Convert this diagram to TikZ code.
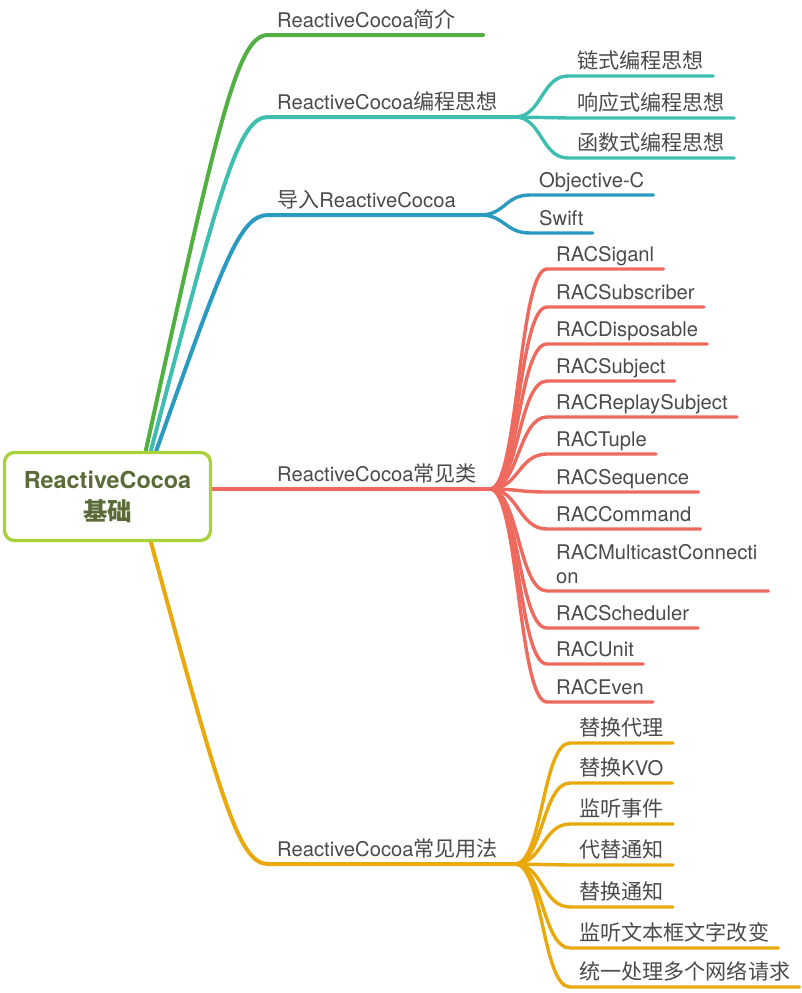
\documentclass[tikz,border=0pt]{standalone}
\usepackage{fontspec}
\setmainfont{TeX Gyre Heros}
\newfontfamily\cjk[Scale=1.045]{Noto Sans CJK SC}
\usetikzlibrary{calc, backgrounds}
\newcommand{\zh}[1]{{\cjk #1}}

\definecolor{rootline}{HTML}{A8D13A}
\definecolor{roottext}{HTML}{5B6B38}
\definecolor{labeltext}{HTML}{4A4A4A}
\definecolor{cgreen}{HTML}{52B043}
\definecolor{cteal}{HTML}{3DBEAF}
\definecolor{cblue}{HTML}{2A9AC0}
\definecolor{cred}{HTML}{EE6A5F}
\definecolor{corange}{HTML}{E9A90C}

\tikzset{topic/.style={anchor=south west, inner xsep=9pt, inner ysep=2pt, text height=15pt, text depth=5pt, font=\fontsize{20.2}{24}\selectfont, text=labeltext},
  trunk/.style={to path={let \p1=(\tikztostart), \p2=(\tikztotarget) in .. controls ({\x1+0.6*(\x2-\x1)},{\y1+0.8*(\y2-\y1)}) and ({\x1+0.75*(\x2-\x1)},\y2) .. (\tikztotarget)}},
  twig/.style={to path={let \p1=(\tikztostart), \p2=(\tikztotarget) in .. controls ({0.5*(\x1+\x2)},\y1) and ({0.5*(\x1+\x2)},\y2) .. (\tikztotarget)}},
  bough/.style={line width=4pt, line cap=round, line join=round},
  sprig/.style={line width=3.4pt, line cap=round, line join=round}}

\begin{document}
\begin{tikzpicture}[x=1pt, y=-1pt, rootbox/.style={draw=rootline, line width=3.3pt, rounded corners=10pt, fill=white, minimum width=206pt, minimum height=88pt, align=center, font=\bfseries\fontsize{23.4}{32}\selectfont, text=roottext}]
    \useasboundingbox (0,0) rectangle (801,993);

    %Root
    \node[rootbox](root) at (107.5,496.5){ReactiveCocoa\\\zh{基础}};

    %Main topics
    \node[topic](intro) at (268,35){ReactiveCocoa\zh{简介}};
    \coordinate (intro end) at (483,35);
    \node[topic](idea) at (268,117){ReactiveCocoa\zh{编程思想}};
    \coordinate (idea fork) at (515,117);
    \node[topic](setup) at (268,215){\zh{导入}ReactiveCocoa};
    \coordinate (setup fork) at (480,215);
    \node[topic](classes) at (268,489){ReactiveCocoa\zh{常见类}};
    \coordinate (classes fork) at (490,489);
    \node[topic](usage) at (268,864){ReactiveCocoa\zh{常见用法}};
    \coordinate (usage fork) at (515,864);

    %Programming ideas
    \node[topic](chain) at (568,76){\zh{链式编程思想}};
    \node[topic](reactive) at (568,118){\zh{响应式编程思想}};
    \node[topic](functional) at (568,158){\zh{函数式编程思想}};

    %Languages
    \node[topic](objc) at (530,195){Objective-C};
    \node[topic](swift) at (530,233){Swift};

    %Classes
    \node[topic](siganl) at (547,269){RACSiganl};
    \node[topic](subscriber) at (547,307){RACSubscriber};
    \node[topic](disposable) at (547,344){RACDisposable};
    \node[topic](subject) at (547,381){RACSubject};
    \node[topic](replay) at (547,417){RACReplaySubject};
    \node[topic](tuple) at (547,454){RACTuple};
    \node[topic](sequence) at (547,492){RACSequence};
    \node[topic](command) at (547,529){RACCommand};
    \node[topic, text height=39pt](multicast) at (547,591){\parbox[b]{203pt}{RACMulticastConnecti\\on}};
    \node[topic](scheduler) at (547,628){RACScheduler};
    \node[topic](unit) at (547,664){RACUnit};
    \node[topic](even) at (547,702){RACEven};

    %Usage
    \node[topic](delegate) at (570,743){\zh{替换代理}};
    \node[topic](kvo) at (570,783){\zh{替换}KVO};
    \node[topic](event) at (570,824){\zh{监听事件}};
    \node[topic](notify) at (570,865){\zh{代替通知}};
    \node[topic](renotify) at (570,907){\zh{替换通知}};
    \node[topic](textchange) at (570,948){\zh{监听文本框文字改变}};
    \node[topic](network) at (570,987){\zh{统一处理多个网络请求}};

    %Lines
    \begin{scope}[on background layer]
    \draw[bough, cgreen] ([xshift=142pt,yshift=-4pt]root.north west) to[trunk] (intro.south west) -- (intro end);
    \draw[bough, cteal] ([xshift=147pt,yshift=-4pt]root.north west) to[trunk] (idea.south west) -- (idea fork);
    \draw[bough, cblue] ([xshift=152pt,yshift=-4pt]root.north west) to[trunk] (setup.south west) -- (setup fork);
    \draw[bough, cred] (root.east |- classes fork) -- (classes.south west) -- (classes fork);
    \draw[bough, corange] ([xshift=147pt,yshift=4pt]root.south west) to[trunk] (usage.south west) -- (usage fork);

    \draw[sprig, cteal] (idea fork) to[twig] (chain.south west) -- (chain.south east);
    \draw[sprig, cteal] (idea fork) to[twig] (reactive.south west) -- (reactive.south east);
    \draw[sprig, cteal] (idea fork) to[twig] (functional.south west) -- (functional.south east);

    \draw[sprig, cblue] (setup fork) to[twig] (objc.south west) -- (objc.south east);
    \draw[sprig, cblue] (setup fork) to[twig] (swift.south west) -- (swift.south east);

    \draw[sprig, cred] (classes fork) to[twig] (siganl.south west) -- (siganl.south east);
    \draw[sprig, cred] (classes fork) to[twig] (subscriber.south west) -- (subscriber.south east);
    \draw[sprig, cred] (classes fork) to[twig] (disposable.south west) -- (disposable.south east);
    \draw[sprig, cred] (classes fork) to[twig] (subject.south west) -- (subject.south east);
    \draw[sprig, cred] (classes fork) to[twig] (replay.south west) -- (replay.south east);
    \draw[sprig, cred] (classes fork) to[twig] (tuple.south west) -- (tuple.south east);
    \draw[sprig, cred] (classes fork) to[twig] (sequence.south west) -- (sequence.south east);
    \draw[sprig, cred] (classes fork) to[twig] (command.south west) -- (command.south east);
    \draw[sprig, cred] (classes fork) to[twig] (multicast.south west) -- (multicast.south east);
    \draw[sprig, cred] (classes fork) to[twig] (scheduler.south west) -- (scheduler.south east);
    \draw[sprig, cred] (classes fork) to[twig] (unit.south west) -- (unit.south east);
    \draw[sprig, cred] (classes fork) to[twig] (even.south west) -- (even.south east);

    \draw[sprig, corange] (usage fork) to[twig] (delegate.south west) -- (delegate.south east);
    \draw[sprig, corange] (usage fork) to[twig] (kvo.south west) -- (kvo.south east);
    \draw[sprig, corange] (usage fork) to[twig] (event.south west) -- (event.south east);
    \draw[sprig, corange] (usage fork) to[twig] (notify.south west) -- (notify.south east);
    \draw[sprig, corange] (usage fork) to[twig] (renotify.south west) -- (renotify.south east);
    \draw[sprig, corange] (usage fork) to[twig] (textchange.south west) -- (textchange.south east);
    \draw[sprig, corange] (usage fork) to[twig] (network.south west) -- (network.south east);
    \end{scope}

\end{tikzpicture}
\end{document}
